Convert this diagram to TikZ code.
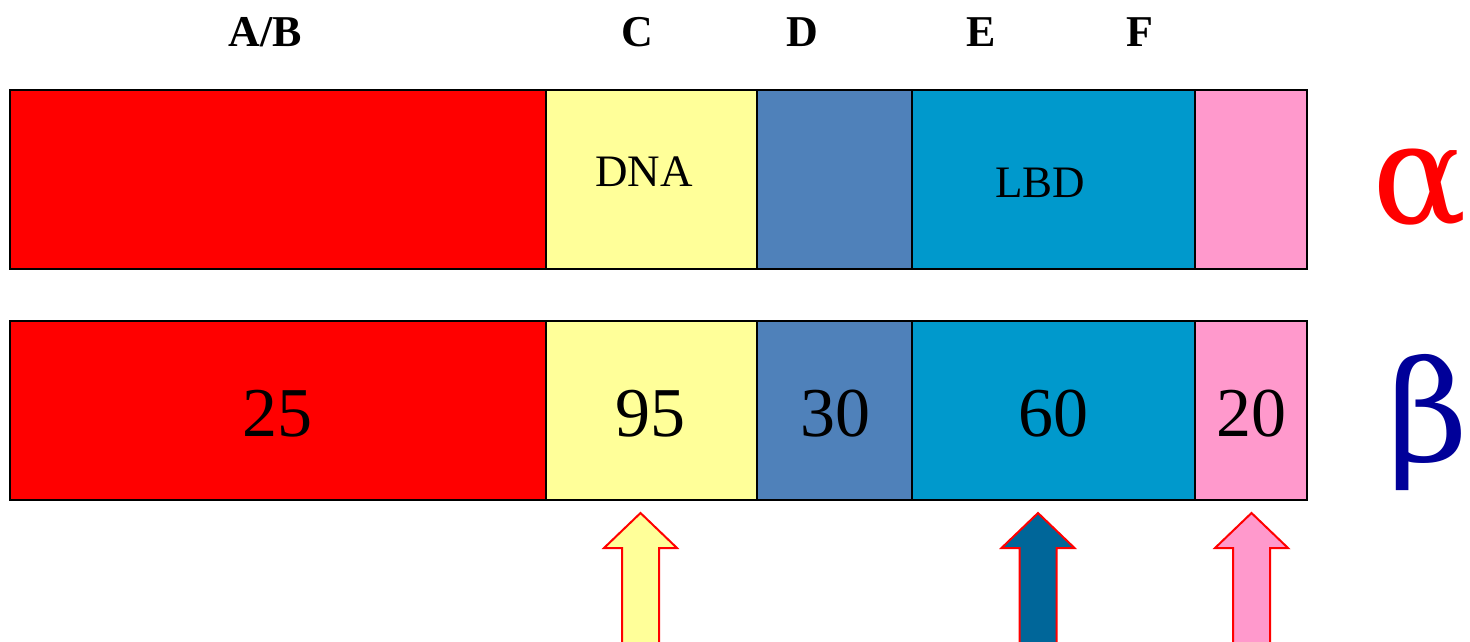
\documentclass[tikz,border=0pt]{standalone}
\usepackage{fontspec}
\setmainfont{Liberation Serif}
\newfontfamily\greekfont{DejaVu Serif}
\definecolor{segred}{HTML}{FF0000}
\definecolor{segyel}{HTML}{FFFF99}
\definecolor{segsteel}{HTML}{4F81BA}
\definecolor{segcyan}{HTML}{0099CC}
\definecolor{segpink}{HTML}{FF99CC}
\definecolor{arrblue}{HTML}{006699}
\definecolor{betablue}{HTML}{000099}
\tikzset{
  seg/.style={draw=black, line width=2pt, inner sep=0pt, minimum height=179pt, anchor=center},
  toplabel/.style={font=\fontsize{44}{44}\selectfont\bfseries, anchor=center, inner sep=0pt},
  numlabel/.style={font=\fontsize{70}{70}\selectfont, inner sep=0pt},
  domlabel/.style={font=\fontsize{45}{45}\selectfont, inner sep=0pt},
  greek/.style={font=\greekfont\fontsize{140}{140}\selectfont, inner sep=0pt},
  uparr/.style={draw=red, line width=2pt, line join=miter}
}
\begin{document}
\begin{tikzpicture}[x=1pt,y=-1pt]
\useasboundingbox (0,0) rectangle (1470,641);
% top labels
\node[toplabel] (lab) at (265,32) {A/B};
\node[toplabel] (lc) at (637,32) {C};
\node[toplabel] (ld) at (802,32) {D};
\node[toplabel] (le) at (981,32) {E};
\node[toplabel] (lf) at (1140,32) {F};
% alpha row
\node[seg, fill=segred, minimum width=536pt] (a1) at (278,179.5) {};
\node[seg, fill=segyel, minimum width=211pt] (a2) at (651.5,179.5) {};
\node[seg, fill=segsteel, minimum width=155pt] (a3) at (834.5,179.5) {};
\node[seg, fill=segcyan, minimum width=283pt] (a4) at (1053.5,179.5) {};
\node[seg, fill=segpink, minimum width=112pt] (a5) at (1251,179.5) {};
\node[domlabel] (dna) at (644,172) {DNA};
\node[domlabel] (lbd) at (1040,183) {LBD};
% beta row
\node[seg, fill=segred, minimum width=536pt] (b1) at (278,410) {};
\node[seg, fill=segyel, minimum width=211pt] (b2) at (651.5,410) {};
\node[seg, fill=segsteel, minimum width=155pt] (b3) at (834.5,410) {};
\node[seg, fill=segcyan, minimum width=283pt] (b4) at (1053.5,410) {};
\node[seg, fill=segpink, minimum width=112pt] (b5) at (1251,410) {};
\node[numlabel] (n1) at (277,414) {25};
\node[numlabel] (n2) at (650,414) {95};
\node[numlabel] (n3) at (835,414) {30};
\node[numlabel] (n4) at (1053,414) {60};
\node[numlabel] (n5) at (1251,414) {20};
% greek
\node[greek, text=red] (alpha) at (1420,188) {α};
\node[greek, text=betablue] (beta) at (1428,422) {β};
% arrows
\draw[uparr, fill=segyel] (640.5,513) -- (677,548) -- (659,548) -- (659,643) -- (622,643) -- (622,548) -- (604,548) -- cycle;
\draw[uparr, fill=arrblue] (1038,513) -- (1074.5,548) -- (1056.5,548) -- (1056.5,643) -- (1019.5,643) -- (1019.5,548) -- (1001.5,548) -- cycle;
\draw[uparr, fill=segpink] (1251.5,513) -- (1288,548) -- (1270,548) -- (1270,643) -- (1233,643) -- (1233,548) -- (1215,548) -- cycle;
\end{tikzpicture}
\end{document}
